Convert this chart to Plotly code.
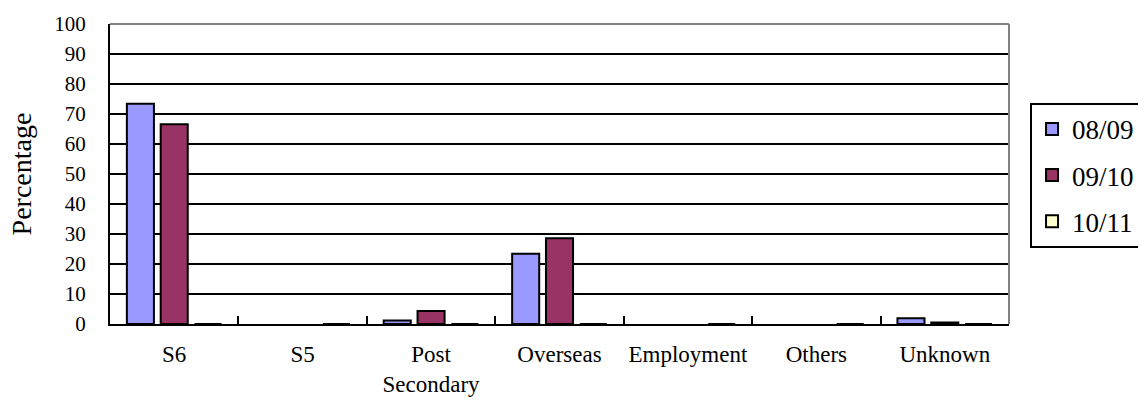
import plotly.graph_objects as go

categories = ["S6", "S5", "Post<br>Secondary", "Overseas", "Employment", "Others", "Unknown"]
series_names = ["08/09", "09/10", "10/11"]
values_0809 = [73.4, 0, 1.2, 23.4, 0, 0, 1.9]
values_0910 = [66.6, 0, 4.3, 28.6, 0, 0, 0.5]
values_1011 = [0, 0, 0, 0, 0, 0, 0]
colors = ["#9999FF", "#993366", "#FFFFCC"]
y_ticks = list(range(0, 101, 10))

FONT = "Liberation Serif"

fig = go.Figure()
for i, (name, vals) in enumerate(zip(series_names, [values_0809, values_0910, values_1011])):
    # outline only non-empty bars; a series with no data keeps its outline for the legend key
    if any(v > 0 for v in vals):
        lw = [2 if v > 0 else 0 for v in vals]
    else:
        lw = 2
    fig.add_trace(go.Bar(
        x=categories, y=vals, name=name,
        legendgroup=name,
        marker=dict(color=colors[i], line=dict(color="black", width=lw)),
    ))

fig.update_layout(
    width=1138, height=401,
    margin=dict(l=110, r=129, t=24, b=77, autoexpand=False),
    paper_bgcolor="white", plot_bgcolor="white",
    barmode="group", bargap=0.21, bargroupgap=0.2,
    font=dict(family=FONT, color="black"),
    showlegend=True,
    legend=dict(
        x=1.0234, xanchor="left", y=0.737, yanchor="top",
        bordercolor="black", borderwidth=2, bgcolor="white",
        font=dict(size=27, family=FONT, color="black"),
        tracegroupgap=8, itemwidth=30,
    ),
)

fig.update_xaxes(
    showline=True, linecolor="black", linewidth=2,
    ticks="inside", tickson="boundaries", ticklen=8, tickwidth=2, tickcolor="black",
    tickfont=dict(size=23, family=FONT), ticklabelstandoff=8, tickangle=0,
    showgrid=False, automargin=False,
)
fig.update_yaxes(
    range=[0, 100], tickvals=y_ticks, ticktext=[str(v) for v in y_ticks],
    showline=True, linecolor="black", linewidth=2,
    showgrid=True, gridcolor="black", gridwidth=2,
    zeroline=False, ticks="",
    tickfont=dict(size=21, family=FONT), ticklabelstandoff=18,
    title=dict(text="Percentage", font=dict(size=28, family=FONT), standoff=14),
    automargin=False,
)

# grey frame on the top and right sides of the plotting area
fig.add_shape(type="line", xref="paper", yref="paper", x0=0, x1=1, y0=1, y1=1,
              line=dict(color="#808080", width=2), layer="above")
fig.add_shape(type="line", xref="paper", yref="paper", x0=1, x1=1, y0=0, y1=1,
              line=dict(color="#808080", width=2), layer="above")

fig.write_html("out.html")
